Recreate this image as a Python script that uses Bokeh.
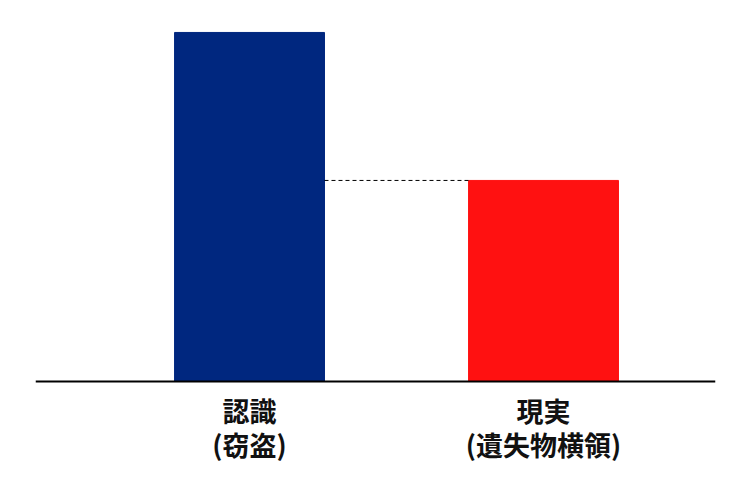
from bokeh.plotting import figure
from bokeh.embed import file_html
from bokeh.resources import INLINE
from bokeh.models import Range1d, Span
from bokeh.core.properties import value

label_line1 = ["認識", "現実"]
label_line2 = ["(窃盗)", "(遺失物横領)"]
values = [100, 57.6]
colors = ["#00277f", "#ff1111"]
xpos = [1, 2]
bar_w = 0.51
label_y1 = [-8.2, -8.2]
label_y2 = [-18.0, -18.0]

p = figure(width=734, height=474, output_backend="svg", toolbar_location=None,
           x_range=Range1d(0.272, 2.585), y_range=Range1d(-26.65, 104.0),
           min_border_left=35, min_border_right=19, min_border_top=18, min_border_bottom=0)
p.outline_line_color = None
p.xgrid.visible = False
p.ygrid.visible = False
p.xaxis.visible = False
p.yaxis.visible = False

p.vbar(x=xpos, top=values, width=bar_w, color=colors)
p.segment(x0=[xpos[0] + bar_w / 2], y0=[values[1]], x1=[xpos[1] - bar_w / 2], y1=[values[1]],
          line_color="black", line_width=1, line_dash="4 3")
p.add_layout(Span(location=0, dimension="width", line_color="black", line_width=2))

for ys, txt in ((label_y1, label_line1), (label_y2, label_line2)):
    p.text(x=xpos, y=ys, text=txt, text_align="center", text_baseline="middle",
           text_font=value("Noto Sans CJK JP"), text_font_style="bold",
           text_font_size="27px", text_color="#111111")

open("out.html", "w").write(file_html(p, INLINE))
